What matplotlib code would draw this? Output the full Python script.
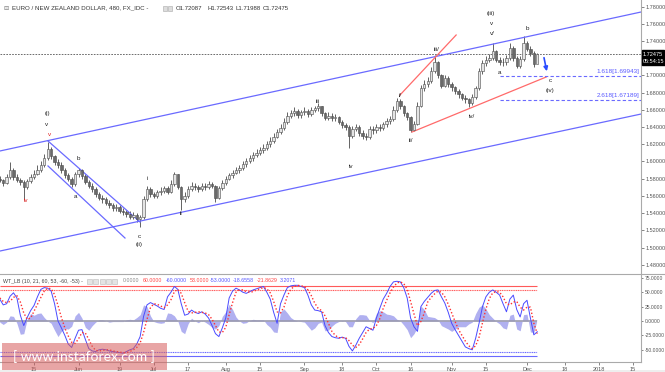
import matplotlib
matplotlib.use('Agg')
import matplotlib.pyplot as plt
import numpy as np
from matplotlib.patches import Rectangle
from matplotlib.lines import Line2D

plt.rcParams['font.family'] = ['Liberation Sans', 'DejaVu Sans']

# ---------------- data (one bar per trading day, May 1 .. Dec 6 2017) ----------------
first_open = 1.5800
close = [1.5785,1.5750,1.5820,1.5900,1.5820,1.5790,1.5760,1.5700,1.5770,1.5820,
         1.5860,1.5900,1.5960,1.6040,1.6150,1.6060,1.5990,1.5960,1.5900,1.5840,
         1.5800,1.5740,1.5850,1.5900,1.5830,1.5760,1.5720,1.5680,1.5620,1.5580,
         1.5560,1.5520,1.5490,1.5460,1.5470,1.5430,1.5410,1.5390,1.5360,1.5380,
         1.5330,1.5350,1.5560,1.5680,1.5620,1.5600,1.5640,1.5660,1.5690,1.5650,
         1.5740,1.5850,1.5700,1.5560,1.5600,1.5680,1.5720,1.5700,1.5680,1.5720,
         1.5700,1.5740,1.5720,1.5580,1.5690,1.5750,1.5800,1.5840,1.5870,1.5900,
         1.5930,1.5970,1.6000,1.6040,1.6080,1.6100,1.6130,1.6160,1.6200,1.6240,
         1.6290,1.6340,1.6390,1.6460,1.6530,1.6560,1.6590,1.6540,1.6570,1.6590,
         1.6550,1.6600,1.6620,1.6640,1.6560,1.6510,1.6530,1.6500,1.6520,1.6460,
         1.6420,1.6400,1.6300,1.6380,1.6400,1.6330,1.6300,1.6280,1.6380,1.6360,
         1.6400,1.6390,1.6430,1.6470,1.6490,1.6600,1.6700,1.6640,1.6560,1.6520,
         1.6370,1.6440,1.6650,1.6850,1.6900,1.6930,1.7050,1.7150,1.7000,1.6880,
         1.6970,1.6900,1.6860,1.6820,1.6780,1.6740,1.6720,1.6680,1.6750,1.6850,
         1.7050,1.7140,1.7180,1.7200,1.7280,1.7180,1.7160,1.7150,1.7200,1.7320,
         1.7200,1.7110,1.7190,1.7380,1.7310,1.7260,1.7130,1.72475]
high = [1.5830,1.5800,1.5850,1.5994,1.5920,1.5850,1.5810,1.5780,1.5800,1.5850,
        1.5900,1.5960,1.6000,1.6090,1.6226,1.6170,1.6080,1.6030,1.5990,1.5920,
        1.5870,1.5820,1.5880,1.5924,1.5910,1.5850,1.5790,1.5750,1.5700,1.5650,
        1.5610,1.5590,1.5550,1.5520,1.5510,1.5500,1.5460,1.5440,1.5420,1.5410,
        1.5400,1.5380,1.5600,1.5720,1.5700,1.5650,1.5670,1.5700,1.5720,1.5710,
        1.5780,1.5878,1.5860,1.5720,1.5640,1.5710,1.5760,1.5750,1.5730,1.5750,
        1.5750,1.5770,1.5760,1.5730,1.5720,1.5780,1.5830,1.5870,1.5900,1.5940,
        1.5960,1.6000,1.6040,1.6070,1.6110,1.6140,1.6170,1.6200,1.6240,1.6280,
        1.6330,1.6380,1.6430,1.6500,1.6570,1.6600,1.6630,1.6610,1.6600,1.6630,
        1.6610,1.6630,1.6650,1.6680,1.6650,1.6580,1.6570,1.6560,1.6550,1.6530,
        1.6480,1.6450,1.6420,1.6410,1.6440,1.6420,1.6360,1.6330,1.6410,1.6410,
        1.6430,1.6430,1.6460,1.6500,1.6530,1.6640,1.6737,1.6720,1.6660,1.6580,
        1.6530,1.6470,1.6690,1.6890,1.6950,1.6980,1.7100,1.7237,1.7170,1.7020,
        1.7000,1.6990,1.6920,1.6880,1.6840,1.6800,1.6770,1.6740,1.6780,1.6880,
        1.7080,1.7180,1.7220,1.7250,1.7376,1.7300,1.7210,1.7200,1.7240,1.7376,
        1.7340,1.7220,1.7230,1.7457,1.7400,1.7340,1.7280,1.72543]
low = [1.5760,1.5720,1.5740,1.5800,1.5790,1.5760,1.5730,1.5553,1.5680,1.5750,
       1.5800,1.5840,1.5880,1.5940,1.6020,1.6030,1.5960,1.5930,1.5870,1.5810,
       1.5770,1.5703,1.5720,1.5820,1.5800,1.5740,1.5690,1.5650,1.5590,1.5550,
       1.5520,1.5490,1.5460,1.5430,1.5430,1.5400,1.5380,1.5360,1.5330,1.5330,
       1.5300,1.5240,1.5330,1.5540,1.5590,1.5570,1.5580,1.5610,1.5630,1.5620,
       1.5630,1.5720,1.5680,1.5437,1.5530,1.5580,1.5660,1.5670,1.5650,1.5660,
       1.5670,1.5680,1.5690,1.5529,1.5560,1.5670,1.5730,1.5780,1.5810,1.5850,
       1.5870,1.5900,1.5940,1.5980,1.6010,1.6050,1.6070,1.6100,1.6130,1.6170,
       1.6220,1.6270,1.6320,1.6370,1.6440,1.6500,1.6530,1.6510,1.6510,1.6540,
       1.6520,1.6530,1.6570,1.6590,1.6530,1.6480,1.6480,1.6470,1.6470,1.6430,
       1.6390,1.6360,1.6156,1.6270,1.6350,1.6300,1.6260,1.6250,1.6260,1.6320,
       1.6330,1.6350,1.6360,1.6400,1.6440,1.6470,1.6580,1.6610,1.6530,1.6480,
       1.6342,1.6350,1.6420,1.6630,1.6820,1.6860,1.6910,1.7030,1.6970,1.6850,
       1.6860,1.6870,1.6820,1.6780,1.6740,1.6710,1.6680,1.6633,1.6660,1.6730,
       1.6830,1.7020,1.7110,1.7150,1.7180,1.7150,1.7120,1.7110,1.7120,1.7180,
       1.7170,1.7086,1.7090,1.7170,1.7280,1.7220,1.7100,1.71988]

wt1 = [38,28,30,43,49,40,10,-8,6,18,
       27,42,55,58,57,52,30,0,-12,-25,
       -40,-46,-30,-16,-15,-32,-48,-52,-53,-50,
       -49,-50,-52,-53,-54,-55,-56,-53,-50,-48,
       -40,-27,8,28,32,29,26,22,20,42,
       50,60,55,30,10,12,19,15,13,16,
       12,5,-8,-22,-27,-12,5,40,52,57,
       54,50,48,51,54,56,58,60,50,38,
       15,-4,30,45,58,61,62,62,60,58,
       45,28,19,18,16,-8,-20,-27,-29,-30,
       -28,-30,-44,-52,-42,-30,-20,-10,-13,-16,
       5,22,38,48,60,68,69,68,58,40,
       5,-10,-18,25,34,41,48,53,54,42,
       31,15,-4,-15,-25,-35,-45,-48,-50,-30,
       -4,25,42,50,54,50,45,30,16,38,
       45,20,7,30,36,5,-24,-18.6558]
wt2 = [40,34,32,34,41,44,33,14,3,5,
       17,29,41,52,57,56,46,27,6,-12,
       -26,-37,-39,-31,-20,-21,-32,-44,-51,-52,
       -51,-50,-50,-52,-53,-54,-55,-55,-53,-50,
       -46,-38,-20,3,23,30,29,26,23,28,
       37,51,55,48,32,17,14,15,16,15,
       14,11,3,-8,-19,-20,-11,11,32,50,
       54,54,51,50,51,54,56,58,56,49,
       34,16,14,24,44,55,60,62,61,60,
       54,44,31,22,18,9,-4,-18,-25,-29,
       -29,-29,-34,-42,-46,-41,-31,-20,-14,-13,
       -8,4,22,36,49,59,66,68,65,55,
       34,12,-8,-1,14,33,41,47,52,50,
       42,29,14,-1,-15,-25,-35,-43,-48,-43,
       -28,-3,21,39,49,51,50,42,30,28,
       33,34,24,19,24,24,-4,-21.8629]

tick_pos = [10, 23, 35, 45, 55, 66, 76, 89, 100, 110, 120, 132, 142, 154, 165, 175, 185]
tick_lab = ['15', 'Jun', '19', 'Jul', '17', 'Aug', '15', 'Sep', '18', 'Oct', '16',
            'Nov', '15', 'Dec', '18', '2018', '15']

price_ticks = [1.48, 1.50, 1.52, 1.54, 1.56, 1.58, 1.60, 1.62, 1.64, 1.66,
               1.68, 1.70, 1.74, 1.76, 1.78]
osc_ticks = [75, 50, 25, 0, -25, -50]

# analyst drawings (bar index, price)
chan_up_i, chan_up_p = [0.06, 187.3], [1.6122, 1.7736]
chan_lo_i, chan_lo_p = [0.06, 187.3], [1.4960, 1.6551]
down_up_i, down_up_p = [14.08, 40.96], [1.6238, 1.5297]
down_lo_i, down_lo_p = [14.08, 36.57], [1.5948, 1.5111]
red1_i, red1_p = [116.9, 133.3], [1.6772, 1.7469]
red2_i, red2_p = [120.4, 159.6], [1.6342, 1.6981]
arrow_i, arrow_p = [158.8, 159.95], [1.7237, 1.7016]
fib_names = ['1.618', '2.618']
fib_levels = [1.69943, 1.67189]
fib_start = 146.1

wave_txt = ['(i)', 'v', 'v', 'iv', 'a', 'b', 'c', '(ii)', 'i', 'ii', 'iii', 'iv',
            'i/', 'ii/', 'iii/', '(iii)', 'v', 'v/', 'b', 'a', 'c', '(iv)', 'iv/']
wave_i = [13.8, 13.8, 14.4, 7.65, 22.0, 23.1, 40.7, 40.7, 43.0, 52.9, 93.0, 102.6,
          116.9, 120.1, 127.7, 143.5, 143.5, 143.8, 154.0, 146.1, 160.7, 160.7, 137.95]
wave_p = [1.6563, 1.6435, 1.6319, 1.5541, 1.5599, 1.6029, 1.5134, 1.5030, 1.5808,
          1.5390, 1.6695, 1.5940, 1.6765, 1.6238, 1.7306, 1.7713, 1.7597, 1.7481,
          1.7550, 1.7028, 1.6935, 1.6819, 1.6517]
wave_red = [False, False, True, True] + [False] * 19

ob_levels = [60, 53]
os_levels = [-60, -53]
symbol = 'EURO / NEW ZEALAND DOLLAR, 480, FX_IDC -'
ohlc_txt = ['O1.72087', 'H1.72543', 'L1.71988', 'C1.72475']
countdown = '05:54:15'
ind_name = 'WT_LB (10, 21, 60, 53, -60, -53) -'
ind_vals = ['0.0000', '60.0000', '-60.0000', '53.0000', '-53.0000', '-18.6558', '-21.8629', '3.2071']
ind_cols = ['#888888', '#ff4444', '#5555ff', '#ff4444', '#5555ff', '#5555ff', '#ff4444', '#5555ff']

# ---------------- figure ----------------
W, H = 665, 372
fig = plt.figure(figsize=(W / 100, H / 100), dpi=100)
fig.patch.set_facecolor('white')

def fx(px):
    return px / W

def fy(py):
    return 1 - py / H

FS = 4.0
X0, X1 = 0.06, 187.3
ax = fig.add_axes([0, fy(273), fx(641), fy(0) - fy(273)])
ax2 = fig.add_axes([0, fy(362), fx(641), fy(275) - fy(362)])
for a in (ax, ax2):
    a.set_xlim(X0, X1)
    a.set_facecolor('white')
    for s in ('top', 'left'):
        a.spines[s].set_visible(False)
    a.spines['right'].set_color('#aaaaaa')
    a.spines['bottom'].set_color('#aaaaaa')
    a.yaxis.tick_right()
ax.set_ylim(1.47047, 1.78755)
ax2.set_ylim(-71.2, 79.9)
ax.spines['bottom'].set_visible(False)

# candles
idx = np.arange(len(close))
c = np.array(close)
o = np.array([first_open] + close[:-1])
h = np.array(high)
l = np.array(low)
up = c >= o
ax.vlines(idx, l, h, color='#4a4a4a', lw=0.6, zorder=2)
bb = np.minimum(o, c)
bh = np.maximum(np.abs(c - o), 0.0005)
ax.bar(idx[up], bh[up], bottom=bb[up], width=0.7, color='#e4e4e4', edgecolor='#4a4a4a', lw=0.4, zorder=3)
ax.bar(idx[~up], bh[~up], bottom=bb[~up], width=0.7, color='#6a6a6a', edgecolor='#4a4a4a', lw=0.4, zorder=3)

# drawings
blue = '#6a6aff'
redc = '#ff6a6a'
ax.plot(chan_up_i, chan_up_p, color=blue, lw=0.9)
ax.plot(chan_lo_i, chan_lo_p, color=blue, lw=0.9)
ax.plot(down_up_i, down_up_p, color=blue, lw=0.9)
ax.plot(down_lo_i, down_lo_p, color=blue, lw=0.9)
ax.plot(red1_i, red1_p, color=redc, lw=0.9)
ax.plot(red2_i, red2_p, color=redc, lw=0.9)
for name, lev in zip(fib_names, fib_levels):
    ax.hlines(lev, fib_start, X1, color=blue, lw=0.8, linestyles=(0, (3, 2)))
    ax.annotate(f'{name}[{lev:.5f}]', xy=(X1 - 0.4, lev), xytext=(0, 3),
                textcoords='offset points', ha='right', va='center',
                fontsize=4.6, color='#5a5aff')
ax.annotate('', xy=(arrow_i[1], arrow_p[1]), xytext=(arrow_i[0], arrow_p[0]),
            arrowprops=dict(arrowstyle='-|>', color='#2a4cff', lw=1.2, mutation_scale=6))

# last price line and labels
last = close[-1]
ax.axhline(last, color='#555555', lw=0.6, ls=(0, (2, 1.5)), zorder=1)
ytr = ax.get_yaxis_transform()
ax.text(1.003, last, f'{last:.5f}', transform=ytr, fontsize=FS, color='white',
        va='center', ha='left', clip_on=False,
        bbox=dict(boxstyle='square,pad=0.2', fc='black', ec='black'), zorder=10)
ax.annotate(countdown, xy=(1.003, last), xycoords=ytr, xytext=(0, -5.4),
            textcoords='offset points', fontsize=FS, color='white', va='center', ha='left',
            bbox=dict(boxstyle='square,pad=0.2', fc='black', ec='black'), zorder=10,
            annotation_clip=False)

# wave labels
for t, wi, wp, r in zip(wave_txt, wave_i, wave_p, wave_red):
    ax.text(wi, wp, t, ha='center', va='center', fontsize=4.5,
            color='#e02020' if r else '#222222')

# axis ticks
ax.set_xticks([])
ax.set_yticks(price_ticks)
ax.set_yticklabels([f'{v:.5f}' for v in price_ticks])
ax.tick_params(axis='y', labelsize=FS, colors='#555555', length=2, width=0.5, pad=1.5)

# oscillator
wt1a = np.array(wt1)
wt2a = np.array(wt2)
hist = wt1a - wt2a
ax2.fill_between(idx, 0, hist, color='#b0b0f0', lw=0, zorder=1)
ax2.hlines(0, 0, idx[-1], color='#9a9aae', lw=1.2, zorder=2)
ax2.hlines(ob_levels[0], 0, idx[-1], color='#ff5a5a', lw=0.8, zorder=2)
ax2.hlines(ob_levels[1], 0, idx[-1], color='#ff5a5a', lw=0.8, linestyles=(0, (1, 0.6)), zorder=2)
ax2.hlines(os_levels[0], 0, idx[-1], color='#6a6aff', lw=0.8, zorder=2)
ax2.hlines(os_levels[1], 0, idx[-1], color='#6a6aff', lw=0.8, linestyles=(0, (1, 0.6)), zorder=2)
ax2.plot(idx, wt1a, color='#4a4aff', lw=0.7, zorder=3)
ax2.plot(idx, wt2a, color='#ff3030', lw=1.0, ls=(0, (1, 1.5)), zorder=4)
ax2.set_yticks(osc_ticks)
ax2.set_yticklabels([f'{v:.4f}' for v in osc_ticks])
ax2.tick_params(axis='y', labelsize=3.6, colors='#555555', length=1.5, width=0.5, pad=1.0)
ax2.set_xticks(tick_pos)
ax2.set_xticklabels(tick_lab)
ax2.tick_params(axis='x', labelsize=FS, colors='#555555', length=2, width=0.5, pad=1.5)

# separator lines
fig.add_artist(Line2D([0, 1], [fy(274), fy(274)], transform=fig.transFigure, color='#aaaaaa', lw=0.8))
fig.add_artist(Rectangle((0, 0), 1, fy(369.5), transform=fig.transFigure, fc='#eeeeee', ec='none', zorder=-1))

# header texts
fig.text(fx(3), fy(8), '\u229f', fontsize=4.5, color='#777777', va='center', family='DejaVu Sans')
fig.text(fx(12), fy(8), symbol, fontsize=4.4, color='#333333', va='center')
for k in range(2):
    fig.add_artist(Rectangle((fx(163 + 5 * k), fy(10.5)), fx(4), fy(6) - fy(10.5), transform=fig.transFigure,
                             fc='#dddddd', ec='#aaaaaa', lw=0.4))
for t, px in zip(ohlc_txt, [176, 207, 235, 263]):
    fig.text(fx(px), fy(8), t, fontsize=4.3, color='#333333', va='center')

fig.text(fx(3), fy(281), ind_name, fontsize=3.8, color='#444444', va='center')
for k in range(5):
    fig.add_artist(Rectangle((fx(87 + 6.3 * k), fy(283.5)), fx(5), fy(278.5) - fy(283.5), transform=fig.transFigure,
                             fc='#e4e4e4', ec='#bbbbbb', lw=0.4))
for t, col, px in zip(ind_vals, ind_cols, [123, 143, 166, 190, 210, 233, 257, 280]):
    fig.text(fx(px), fy(281), t, fontsize=3.8, color=col, va='center')

# watermark
fig.add_artist(Rectangle((fx(2), fy(370)), fx(165), fy(343) - fy(370), transform=fig.transFigure,
                         fc='#d65c5c', ec='none', alpha=0.55, zorder=20))
fig.text(fx(84), fy(356.5), '[ www.instaforex.com ]', fontsize=10, color='white',
         family='Lato', ha='center', va='center', zorder=21)

fig.savefig('out.png', dpi=100)
